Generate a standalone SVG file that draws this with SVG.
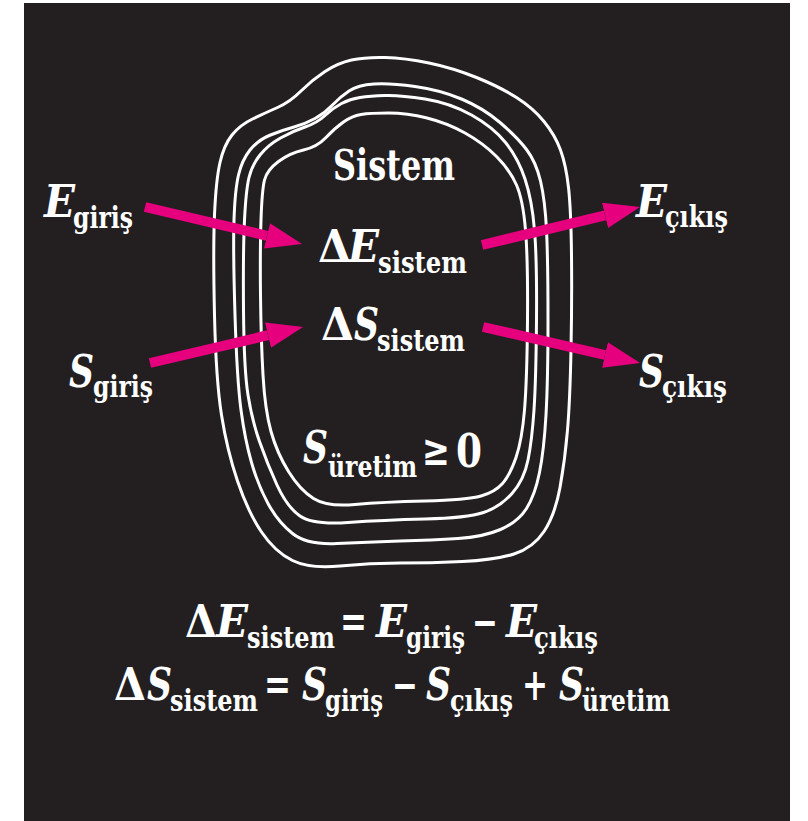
<svg xmlns="http://www.w3.org/2000/svg" width="808" height="821" viewBox="0 0 808 821">
<style>
.bd{fill:none;stroke:#ffffff;stroke-width:3}
.t{font-family:'DejaVu Serif','Liberation Serif',serif;font-weight:bold;fill:#ffffff}
.m{font-size:44px}
.i{font-style:italic}
.s{font-size:30px}
.ar{stroke:#e6007e;stroke-width:10;fill:none}
</style>
<defs>
<marker id="ah" markerUnits="userSpaceOnUse" markerWidth="36" markerHeight="26" refX="0" refY="13" orient="auto" viewBox="0 0 36 26">
<path d="M0,0 L36,13 L0,26 z" fill="#e6007e"/>
</marker>
</defs>
<rect x="0" y="0" width="808" height="821" fill="#ffffff"/>
<rect x="24" y="3" width="766" height="818" fill="#231f20"/>
<g id="system-boundary">
<path class="bd" d="M214.5,315 Q213,250 214.5,215 Q216,180 220,162.5 Q224,145 232,135 Q240,125 252.5,119 Q265,113 277.5,107.5 Q290,102 301,91 Q312,80 325,71.5 Q338,63 351.5,60 Q365,57 385,57.5 Q405,58 429,63 Q453,68 476.5,77.5 Q500,87 516.5,97.5 Q533,108 544,121.5 Q555,135 560.5,150 Q566,165 568.5,187.5 Q571,210 571.5,255 Q572,300 571,350 Q570,400 567.5,430 Q565,460 560,487.5 Q555,515 544,531.5 Q533,548 514,554 Q495,560 462.5,561.5 Q430,563 400,563 Q370,563 340,566 Q310,569 292.5,560.5 Q275,552 261.5,532 Q248,512 237.5,481 Q227,450 221.5,415 Q216,380 214.5,315 Z"/>
<path class="bd" d="M235,315 Q233,250 234,220 Q235,190 238.5,175 Q242,160 250,150 Q258,140 270.5,135 Q283,130 294,127 Q305,124 315,118.5 Q325,113 332.5,105 Q340,97 349,91 Q358,85 374,84 Q390,83 415,86.5 Q440,90 461.5,99 Q483,108 500,122.5 Q517,137 526.5,149.5 Q536,162 540.5,181 Q545,200 546.5,230 Q548,260 548,320 Q548,380 546,415 Q544,450 539.5,472.5 Q535,495 526.5,508.5 Q518,522 500.5,529.5 Q483,537 458,538.5 Q433,540 400,541 Q367,542 337,543.5 Q307,545 292.5,533.5 Q278,522 268,503.5 Q258,485 251.5,462.5 Q245,440 241,410 Q237,380 235,315 Z"/>
<path class="bd" d="M243.5,310 Q243,250 244.5,220 Q246,190 249,177.5 Q252,165 260,155 Q268,145 280.5,138 Q293,131 305,127 Q317,123 325,115.5 Q333,108 341.5,103.5 Q350,99 360,97.5 Q370,96 385,95.5 Q400,95 425,99 Q450,103 471.5,115 Q493,127 505.5,142.5 Q518,158 525,179 Q532,200 534.5,230 Q537,260 536.5,320 Q536,380 534,410 Q532,440 528,460 Q524,480 512,493.5 Q500,507 483.5,512.5 Q467,518 425,519 Q383,520 348,522.5 Q313,525 300,516 Q287,507 277,485 Q267,463 259.5,441.5 Q252,420 248,395 Q244,370 243.5,310 Z"/>
<path class="bd" d="M260.5,295 Q260,250 261,220 Q262,190 264.5,180 Q267,170 278.5,161.5 Q290,153 303.5,150 Q317,147 326,137.5 Q335,128 343.5,122 Q352,116 361,114.5 Q370,113 388.5,113 Q407,113 427,118 Q447,123 465,133 Q483,143 496.5,156.5 Q510,170 516.5,185 Q523,200 525.5,230 Q528,260 527.5,320 Q527,380 524.5,410 Q522,440 516,457.5 Q510,475 502.5,483.5 Q495,492 481,496 Q467,500 425,501 Q383,502 355,504.5 Q327,507 313.5,498.5 Q300,490 288.5,471.5 Q277,453 271,431.5 Q265,410 263,375 Q261,340 260.5,295 Z"/>
</g>
<g id="connectors">
<line class="ar" x1="145" y1="207" x2="267" y2="235.8" marker-end="url(#ah)"/>
<line class="ar" x1="150" y1="363" x2="268" y2="335.2" marker-end="url(#ah)"/>
<line class="ar" x1="482" y1="245" x2="605" y2="215.4" marker-end="url(#ah)"/>
<line class="ar" x1="483" y1="327" x2="605" y2="355" marker-end="url(#ah)"/>
</g>
<g id="system-label">
<text class="t" x="333" y="180" font-size="43" textLength="122" lengthAdjust="spacingAndGlyphs">Sistem</text>
</g>
<g id="delta-E">
<text class="t m"><tspan x="318" y="262" textLength="33" lengthAdjust="spacingAndGlyphs">Δ</tspan><tspan class="i" x="348" y="262" textLength="31" lengthAdjust="spacingAndGlyphs">E</tspan><tspan class="s" x="378" y="273" textLength="89" lengthAdjust="spacingAndGlyphs">sistem</tspan></text>
</g>
<g id="delta-S">
<text class="t m"><tspan x="321" y="340" textLength="33" lengthAdjust="spacingAndGlyphs">Δ</tspan><tspan class="i" x="354" y="340" textLength="25" lengthAdjust="spacingAndGlyphs">S</tspan><tspan class="s" x="377" y="351" textLength="88" lengthAdjust="spacingAndGlyphs">sistem</tspan></text>
</g>
<g id="S-uretim">
<text class="t m"><tspan class="i" x="303" y="463" textLength="25" lengthAdjust="spacingAndGlyphs">S</tspan><tspan class="s" x="328" y="477" textLength="89" lengthAdjust="spacingAndGlyphs">üretim</tspan><tspan x="422" y="465" textLength="28" lengthAdjust="spacingAndGlyphs">≥</tspan><tspan x="456" y="467" font-size="46" textLength="26" lengthAdjust="spacingAndGlyphs">0</tspan></text>
</g>
<g id="E-giris">
<text class="t m"><tspan class="i" x="44" y="217" textLength="31" lengthAdjust="spacingAndGlyphs">E</tspan><tspan class="s" x="73" y="228" textLength="60" lengthAdjust="spacingAndGlyphs">giriş</tspan></text>
</g>
<g id="S-giris">
<text class="t m"><tspan class="i" x="69" y="387" textLength="25" lengthAdjust="spacingAndGlyphs">S</tspan><tspan class="s" x="93" y="397" textLength="60" lengthAdjust="spacingAndGlyphs">giriş</tspan></text>
</g>
<g id="E-cikis">
<text class="t m"><tspan class="i" x="636" y="217" textLength="31" lengthAdjust="spacingAndGlyphs">E</tspan><tspan class="s" x="665" y="227" textLength="63" lengthAdjust="spacingAndGlyphs">çıkış</tspan></text>
</g>
<g id="S-cikis">
<text class="t m"><tspan class="i" x="639" y="387" textLength="25" lengthAdjust="spacingAndGlyphs">S</tspan><tspan class="s" x="662" y="397" textLength="65" lengthAdjust="spacingAndGlyphs">çıkış</tspan></text>
</g>
<g id="equation-energy">
<text class="t m"><tspan x="185" y="637" textLength="32" lengthAdjust="spacingAndGlyphs">Δ</tspan><tspan class="i" x="216" y="637" textLength="32" lengthAdjust="spacingAndGlyphs">E</tspan><tspan class="s" x="247" y="648" textLength="88" lengthAdjust="spacingAndGlyphs">sistem</tspan><tspan x="340" y="637" textLength="27" lengthAdjust="spacingAndGlyphs">=</tspan><tspan class="i" x="376" y="637" textLength="31" lengthAdjust="spacingAndGlyphs">E</tspan><tspan class="s" x="406" y="648" textLength="59" lengthAdjust="spacingAndGlyphs">giriş</tspan><tspan x="472" y="637" textLength="26" lengthAdjust="spacingAndGlyphs">−</tspan><tspan class="i" x="506" y="637" textLength="31" lengthAdjust="spacingAndGlyphs">E</tspan><tspan class="s" x="534" y="648" textLength="64" lengthAdjust="spacingAndGlyphs">çıkış</tspan></text>
</g>
<g id="equation-entropy">
<text class="t m"><tspan x="114" y="700" textLength="32" lengthAdjust="spacingAndGlyphs">Δ</tspan><tspan class="i" x="147" y="700" textLength="25" lengthAdjust="spacingAndGlyphs">S</tspan><tspan class="s" x="170" y="711" textLength="88" lengthAdjust="spacingAndGlyphs">sistem</tspan><tspan x="264" y="700" textLength="27" lengthAdjust="spacingAndGlyphs">=</tspan><tspan class="i" x="302" y="700" textLength="25" lengthAdjust="spacingAndGlyphs">S</tspan><tspan class="s" x="325" y="711" textLength="58" lengthAdjust="spacingAndGlyphs">giriş</tspan><tspan x="392" y="700" textLength="26" lengthAdjust="spacingAndGlyphs">−</tspan><tspan class="i" x="426" y="700" textLength="25" lengthAdjust="spacingAndGlyphs">S</tspan><tspan class="s" x="450" y="711" textLength="63" lengthAdjust="spacingAndGlyphs">çıkış</tspan><tspan x="522" y="700" textLength="26" lengthAdjust="spacingAndGlyphs">+</tspan><tspan class="i" x="559" y="700" textLength="25" lengthAdjust="spacingAndGlyphs">S</tspan><tspan class="s" x="582" y="711" textLength="88" lengthAdjust="spacingAndGlyphs">üretim</tspan></text>
</g>
</svg>
